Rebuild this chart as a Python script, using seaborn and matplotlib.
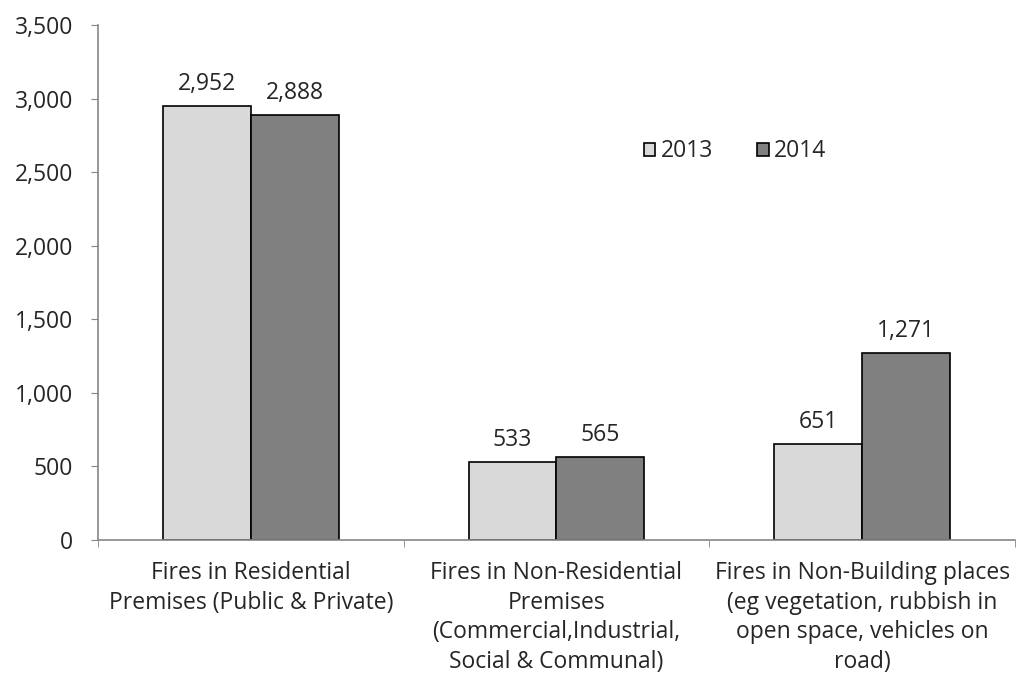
import pandas as pd
import numpy as np
import seaborn as sns
import matplotlib.pyplot as plt
from matplotlib.ticker import FuncFormatter

# Data
categories = [
    "Fires in Residential\nPremises (Public & Private)",
    "Fires in Non-Residential\nPremises\n(Commercial,Industrial,\nSocial & Communal)",
    "Fires in Non-Building places\n(eg vegetation, rubbish in\nopen space, vehicles on\nroad)",
]
years = ["2013", "2014"]
values_2013 = [2952, 533, 651]
values_2014 = [2888, 565, 1271]

df = pd.DataFrame({
    "category": categories * 2,
    "year": [years[0]] * 3 + [years[1]] * 3,
    "fires": values_2013 + values_2014,
})

sns.set_style("white")
plt.rcParams['font.family'] = ['Open Sans', 'DejaVu Sans']
fs = 16.5

fig = plt.figure(figsize=(10.16, 6.82), dpi=100)
ax = fig.add_axes([98 / 1016, 1 - 540 / 682, 1 - 98 / 1016 - 0.001, (540 - 25) / 682])

sns.barplot(data=df, x="category", y="fires", hue="year",
            palette=["#d9d9d9", "#808080"], edgecolor="black", linewidth=1.2,
            width=0.574, saturation=1, ax=ax)

for cont in ax.containers:
    ax.bar_label(cont, labels=[f"{v:,.0f}" for v in cont.datavalues],
                 padding=7, fontsize=fs)

ax.set_ylim(0, 3500)
ax.set_xlim(-0.5, 2.5)
ax.set_yticks(np.arange(0, 3501, 500))
ax.yaxis.set_major_formatter(FuncFormatter(lambda v, p: f"{v:,.0f}"))
ax.set_xlabel("")
ax.set_ylabel("")

ax.set_xticks([-0.5, 0.5, 1.5, 2.5], minor=True)
ax.tick_params(axis="x", which="major", length=0, labelsize=fs, pad=15)
ax.tick_params(axis="x", which="minor", length=5, color="#868686", direction="out", bottom=True)
ax.tick_params(axis="y", length=5, color="#868686", direction="out", left=True, labelsize=fs, pad=13)
for lbl in ax.get_xticklabels():
    lbl.set_linespacing(1.32)

for s in ["top", "right"]:
    ax.spines[s].set_visible(False)
for s in ["left", "bottom"]:
    ax.spines[s].set_color("#868686")
    ax.spines[s].set_linewidth(1.2)

ax.legend(loc="center", bbox_to_anchor=(0.695, 0.755), ncol=2, frameon=False,
          fontsize=fs, handlelength=0.5, handleheight=0.5, handletextpad=0.25,
          columnspacing=1.9)

fig.savefig("out.png", dpi=100)
